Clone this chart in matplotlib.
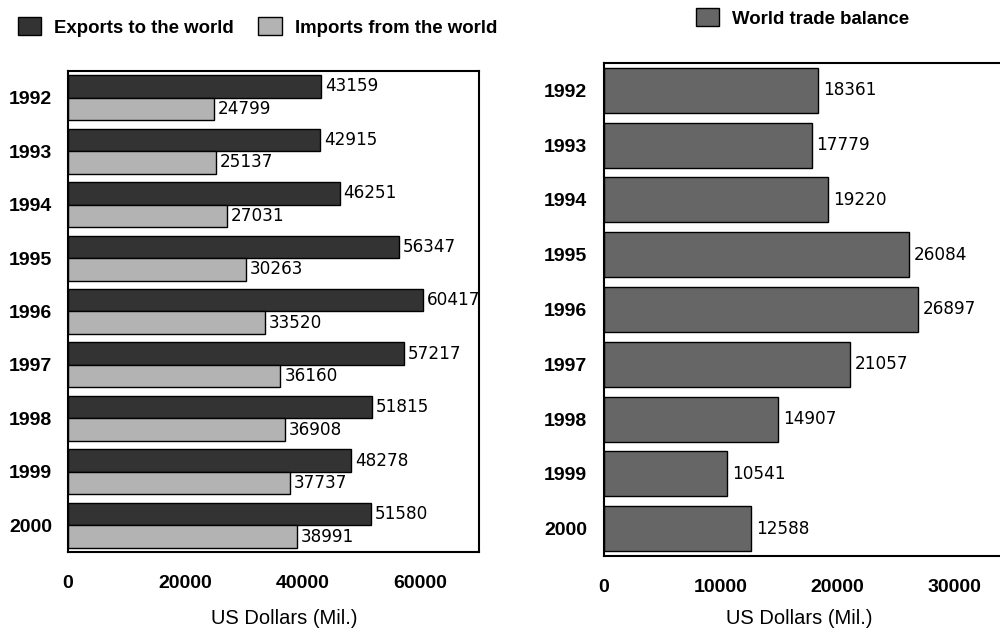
import matplotlib
matplotlib.use("Agg")
import matplotlib.pyplot as plt
import numpy as np

years = ["1992", "1993", "1994", "1995", "1996", "1997", "1998", "1999", "2000"]
exports = [43159, 42915, 46251, 56347, 60417, 57217, 51815, 48278, 51580]
imports = [24799, 25137, 27031, 30263, 33520, 36160, 36908, 37737, 38991]
balance = [18361, 17779, 19220, 26084, 26897, 21057, 14907, 10541, 12588]
left_ticks = [0, 20000, 40000, 60000]
right_ticks = [0, 10000, 20000, 30000]

C_EXP = "#333333"
C_IMP = "#b3b3b3"
C_BAL = "#666666"
W, H = 1000, 635
PX = 72 / 100  # points per pixel
plt.rcParams["font.family"] = ["Liberation Sans", "DejaVu Sans"]

fig = plt.figure(figsize=(10, 6.35), dpi=100)

def box(l, r, t, b):
    return [l / W, (H - b) / H, (r - l) / W, (b - t) / H]

TICK_FS = 14
LEG_FS = 13.4
VAL_FS = 12.2
LAB_FS = 14.5

# left chart
ax1 = fig.add_axes(box(68, 479, 71, 552))
y = np.arange(len(years))
bh = 0.42
b_exp = ax1.barh(y - bh / 2, exports, height=bh, color=C_EXP, edgecolor="black", linewidth=1.0,
                 label="Exports to the world")
b_imp = ax1.barh(y + bh / 2, imports, height=bh, color=C_IMP, edgecolor="black", linewidth=1.0,
                 label="Imports from the world")
ax1.set_xlim(0, 70000)
ax1.set_ylim(len(years) - 0.5, -0.5)
ax1.set_yticks(y)
ax1.set_yticklabels(years, fontweight="bold", fontsize=TICK_FS)
ax1.set_xticks(left_ticks)
ax1.set_xticklabels([str(t) for t in left_ticks], fontweight="bold", fontsize=TICK_FS)
ax1.tick_params(length=0)
ax1.tick_params(axis="y", pad=16 * PX)
ax1.tick_params(axis="x", pad=23 * PX)
for s in ax1.spines.values():
    s.set_linewidth(1.5)
    s.set_zorder(5)
for bars in (b_exp, b_imp):
    texts = ax1.bar_label(bars, labels=[str(int(v)) for v in bars.datavalues], padding=4 * PX,
                          fontsize=VAL_FS, family="DejaVu Sans")
    for t in texts:
        t.set_clip_on(True)
fig.text(284 / W, 1 - 619 / H, "US Dollars (Mil.)", ha="center", va="center", fontsize=LAB_FS)

fig.legend(handles=[b_exp, b_imp], loc="upper left", bbox_to_anchor=(18 / W, 1 - 17 / H),
           ncol=2, frameon=False, borderpad=0, borderaxespad=0, handlelength=1.25,
           handleheight=1.15, handletextpad=0.7, columnspacing=1.3,
           prop={"weight": "bold", "size": LEG_FS})

# right chart
ax2 = fig.add_axes(box(604, 1001, 63, 556))
b_bal = ax2.barh(y, balance, height=0.82, color=C_BAL, edgecolor="black", linewidth=1.0,
                 label="World trade balance")
ax2.set_xlim(0, 34000)
ax2.set_ylim(len(years) - 0.5, -0.5)
ax2.set_yticks(y)
ax2.set_yticklabels(years, fontweight="bold", fontsize=TICK_FS)
ax2.set_xticks(right_ticks)
ax2.set_xticklabels([str(t) for t in right_ticks], fontweight="bold", fontsize=TICK_FS)
ax2.tick_params(length=0)
ax2.tick_params(axis="y", pad=17 * PX)
ax2.tick_params(axis="x", pad=23 * PX)
for s in ax2.spines.values():
    s.set_linewidth(1.5)
ax2.spines["right"].set_visible(False)
ax2.bar_label(b_bal, labels=[str(int(v)) for v in balance], padding=5 * PX,
              fontsize=VAL_FS, family="DejaVu Sans")
fig.text(799 / W, 1 - 619 / H, "US Dollars (Mil.)", ha="center", va="center", fontsize=LAB_FS)

fig.legend(handles=[b_bal], loc="upper left", bbox_to_anchor=(696 / W, 1 - 8 / H),
           frameon=False, borderpad=0, borderaxespad=0, handlelength=1.25,
           handleheight=1.15, handletextpad=0.7,
           prop={"weight": "bold", "size": LEG_FS})

fig.savefig("out.png", dpi=100)
